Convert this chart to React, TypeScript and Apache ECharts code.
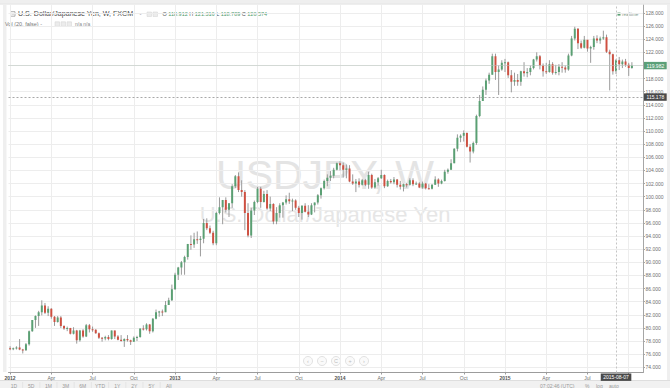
import React, { useEffect, useRef } from "react";
import * as echarts from "echarts";

// Weekly candles [open, high, low, close]
const ohlc2012: number[][] = [
  [76.9, 77.2, 76.6, 76.8], [76.8, 77.0, 76.6, 76.9], [76.9, 77.2, 76.7, 77.0], [77.0, 78.3, 76.6, 76.7],
  [76.7, 76.8, 76.1, 76.6], [76.6, 77.7, 76.5, 77.5], [77.5, 79.6, 77.3, 79.5], [79.5, 81.2, 79.4, 81.2],
  [81.2, 81.9, 80.0, 81.8], [81.8, 82.6, 80.3, 82.4], [82.4, 84.2, 81.9, 83.4], [83.4, 83.8, 82.1, 82.3],
  [82.3, 83.3, 81.8, 82.9], [82.9, 83.0, 81.4, 81.7], [81.7, 81.8, 80.3, 80.9], [80.9, 81.8, 80.8, 81.6],
  [81.6, 81.8, 80.0, 80.3], [80.3, 80.4, 79.7, 79.9], [79.9, 80.2, 79.5, 80.0], [80.0, 80.0, 79.0, 79.1],
  [79.1, 80.1, 79.0, 79.6], [79.6, 79.7, 77.6, 78.1], [78.1, 79.7, 77.9, 79.6], [79.6, 79.8, 78.5, 78.7],
  [78.7, 80.6, 78.6, 80.4], [80.4, 80.6, 79.3, 79.8], [79.8, 80.2, 79.4, 79.7], [79.7, 79.8, 79.1, 79.2],
  [79.2, 79.3, 78.3, 78.5], [78.5, 78.6, 77.9, 78.4], [78.4, 78.8, 78.1, 78.6], [78.6, 78.9, 78.1, 78.3],
  [78.3, 79.6, 78.2, 79.6], [79.6, 79.6, 78.3, 78.7], [78.7, 78.9, 78.1, 78.2], [78.2, 78.9, 77.9, 78.0],
  [78.0, 78.4, 77.1, 78.3], [78.3, 78.9, 77.9, 78.1], [78.1, 78.2, 77.4, 77.9], [77.9, 78.7, 77.9, 78.5],
  [78.5, 78.8, 78.0, 78.6], [78.6, 79.9, 78.5, 79.9], [79.9, 80.4, 79.6, 79.8], [79.8, 80.7, 79.6, 80.5],
  [80.5, 80.6, 79.1, 79.5], [79.5, 81.5, 79.3, 81.4], [81.4, 82.8, 81.3, 82.4], [82.4, 82.6, 81.7, 82.5],
  [82.5, 82.8, 81.8, 82.4], [82.4, 84.1, 82.4, 83.5], [83.5, 84.6, 83.5, 84.2], [84.2, 86.6, 84.1, 85.9],
  [85.9, 88.4, 85.8, 88.1],
];
const ohlc2013: number[][] = [
  [88.1, 89.3, 87.3, 89.2], [89.2, 90.2, 88.1, 90.0], [90.0, 91.0, 88.1, 90.8], [90.8, 92.8, 90.4, 92.8],
  [92.8, 94.1, 91.9, 92.7], [92.7, 94.5, 92.2, 93.5], [93.5, 94.7, 92.8, 93.4], [93.4, 94.0, 90.9, 93.6],
  [93.6, 96.6, 92.9, 96.0], [96.0, 96.7, 94.9, 95.2], [95.2, 95.6, 94.3, 94.5], [94.5, 94.8, 92.6, 92.9],
  [92.9, 97.7, 92.6, 97.5], [97.5, 99.9, 97.3, 98.4], [98.4, 99.5, 95.8, 99.5], [99.5, 99.9, 97.6, 98.0],
  [98.0, 99.0, 96.9, 99.0], [99.0, 101.9, 98.3, 101.6], [101.6, 103.3, 101.3, 103.1], [103.1, 103.7, 100.7, 101.0],
  [101.0, 102.5, 100.0, 100.7], [100.7, 101.0, 94.9, 97.5], [97.5, 99.0, 93.8, 94.1], [94.1, 98.3, 93.7, 97.9],
  [97.9, 99.4, 97.2, 99.2], [99.2, 101.5, 99.0, 101.2], [101.2, 101.5, 98.3, 99.2], [99.2, 100.9, 99.1, 100.4],
  [100.4, 101.0, 98.0, 98.2], [98.2, 100.0, 97.8, 98.9], [98.9, 99.0, 95.8, 96.2], [96.2, 98.4, 95.8, 97.5],
  [97.5, 99.0, 96.8, 98.7], [98.7, 99.2, 96.8, 99.1], [99.1, 100.2, 98.8, 99.6], [99.6, 100.6, 98.9, 99.3],
  [99.3, 99.7, 97.8, 99.4], [99.4, 99.6, 98.0, 98.3], [98.3, 98.6, 96.9, 97.5], [97.5, 98.7, 96.5, 98.6],
  [98.6, 99.0, 97.6, 97.7], [97.7, 98.7, 96.9, 97.3], [97.3, 99.0, 97.2, 98.7], [98.7, 99.1, 97.6, 99.1],
  [99.1, 100.4, 98.8, 100.2], [100.2, 101.4, 99.7, 101.3], [101.3, 102.6, 101.1, 102.4], [102.4, 103.4, 101.6, 102.9],
  [102.9, 103.9, 102.4, 103.2], [103.2, 104.4, 102.8, 104.1], [104.1, 105.2, 104.0, 105.1], [105.1, 105.4, 104.0, 104.8],
];
const ohlc2014: number[][] = [
  [104.8, 105.2, 102.9, 104.1], [104.1, 104.9, 102.8, 104.3], [104.3, 104.8, 102.2, 102.3], [102.3, 103.4, 101.8, 102.0],
  [102.0, 102.7, 100.7, 102.3], [102.3, 102.8, 101.4, 101.8], [101.8, 102.7, 101.7, 102.5], [102.5, 102.7, 101.6, 101.8],
  [101.8, 103.8, 101.2, 103.3], [103.3, 103.5, 101.2, 101.4], [101.4, 102.7, 101.2, 102.2], [102.2, 103.0, 101.7, 102.8],
  [102.8, 104.1, 102.7, 103.3], [103.3, 103.4, 101.3, 101.6], [101.6, 102.6, 101.5, 102.4], [102.4, 102.7, 102.0, 102.2],
  [102.2, 103.0, 101.9, 102.6], [102.6, 102.7, 101.4, 101.8], [101.8, 102.4, 101.1, 101.5], [101.5, 102.0, 100.8, 101.9],
  [101.9, 102.1, 101.4, 101.8], [101.8, 102.8, 101.7, 102.5], [102.5, 102.8, 101.6, 101.9], [101.9, 102.3, 101.8, 102.0],
  [102.0, 102.2, 101.3, 101.4], [101.4, 102.3, 101.2, 102.0], [102.0, 102.1, 101.1, 101.3], [101.3, 101.9, 101.1, 101.2],
  [101.2, 101.9, 101.1, 101.8], [101.8, 103.1, 101.8, 102.6], [102.6, 102.8, 101.5, 102.0], [102.0, 102.6, 101.9, 102.4],
  [102.4, 104.1, 102.3, 103.8], [103.8, 104.3, 103.5, 104.1], [104.1, 105.7, 104.1, 105.1], [105.1, 107.4, 105.1, 107.3],
  [107.3, 109.5, 106.9, 109.0], [109.0, 109.5, 108.3, 109.3], [109.3, 110.1, 108.4, 109.7], [109.7, 109.8, 107.5, 107.6],
  [107.6, 108.0, 105.2, 106.9], [106.9, 108.4, 106.6, 108.2], [108.2, 112.5, 107.9, 112.3], [112.3, 115.5, 112.1, 114.6],
  [114.6, 116.8, 114.6, 116.3], [116.3, 118.0, 115.5, 117.7], [117.7, 118.9, 117.2, 118.6], [118.6, 121.8, 118.6, 121.4],
  [121.4, 121.8, 117.8, 119.0], [119.0, 120.0, 115.5, 119.4], [119.4, 120.8, 119.2, 120.4], [120.4, 121.0, 119.0, 120.5],
];
const ohlc2015: number[][] = [
  [120.5, 120.6, 118.1, 118.5], [118.5, 119.3, 115.9, 117.5], [117.5, 118.9, 116.9, 117.8], [117.8, 118.7, 116.9, 117.5],
  [117.5, 119.2, 116.9, 119.1], [119.1, 120.5, 118.3, 118.8], [118.8, 119.6, 118.2, 119.0], [119.0, 120.0, 118.5, 119.6],
  [119.6, 121.0, 119.4, 120.9], [120.9, 122.0, 120.6, 121.4], [121.4, 121.6, 119.4, 120.0], [120.0, 120.3, 118.3, 119.1],
  [119.1, 120.4, 118.7, 119.0], [119.0, 120.8, 118.9, 120.2], [120.2, 120.5, 118.6, 118.9], [118.9, 120.1, 118.6, 119.0],
  [119.0, 120.2, 118.5, 119.8], [119.8, 120.5, 118.9, 119.7], [119.7, 120.0, 118.9, 119.4], [119.4, 121.8, 119.2, 121.5],
  [121.5, 124.5, 121.4, 124.1], [124.1, 125.9, 123.8, 125.6], [125.6, 125.7, 122.5, 123.4], [123.4, 123.8, 122.5, 122.7],
  [122.7, 124.5, 122.6, 123.9], [123.9, 123.9, 122.1, 122.6], [122.6, 123.0, 120.4, 122.8], [122.8, 124.5, 122.4, 124.1],
  [124.1, 124.6, 123.4, 123.8], [123.8, 124.4, 123.3, 124.1], [124.1, 125.3, 123.9, 124.3], [124.3, 124.7, 121.9, 122.1],
  [122.1, 122.4, 116.2, 121.7], [121.7, 121.8, 118.6, 119.1], [119.1, 121.0, 118.7, 120.8], [120.8, 121.3, 119.3, 120.2],
  [120.2, 120.9, 119.6, 120.6], [120.6, 121.0, 119.8, 120.1], [120.1, 120.4, 118.4, 119.6], [119.6, 120.5, 119.5, 119.98],
];

const firstWeek = "2012-01-02";
const blankWeeksAfter = 3;
const priceTicks = [74, 76, 78, 80, 82, 84, 86, 88, 90, 92, 94, 96, 98, 100, 102, 104, 106, 108, 110, 112, 114, 116, 118, 120, 122, 124, 126, 128];
const monthNames = ["Jan", "Feb", "Mar", "Apr", "May", "Jun", "Jul", "Aug", "Sep", "Oct", "Nov", "Dec"];
const labelMonths = [0, 3, 6, 9];
const lastPrice = 119.982;
const cursorPrice = 115.178;
const cursorWeek = 191;
const cursorDateText = "2015-08-07";
const legendKeys = ["O", "H", "L", "C"];
const legendValues = ["118.912", "121.316", "118.789", "120.574"];
const titleText = "U.S. Dollar/Japanese Yen, W, FXCM";
const volText = "Vol (20, false)";
const watermarkSymbol = "USDJPY, W";
const watermarkName = "U.S. Dollar/Japanese Yen";
const navIcons = ["‹", "−", "C", "+", "›"];
const rangeButtons = ["1D", "5D", "1M", "3M", "6M", "YTD", "1Y", "2Y", "5Y", "All"];

const DAY = 86400000;
const FONT = "'Liberation Sans', Arial, sans-serif";
const UP = "#5aa073";
const DOWN = "#cf5041";
const WICK = "#9a9a9a";

const bars = [...ohlc2012, ...ohlc2013, ...ohlc2014, ...ohlc2015];
const t0 = Date.parse(firstWeek + "T00:00:00Z");
const categories = Array.from({ length: bars.length + blankWeeksAfter }, (_, i) =>
  new Date(t0 + i * 7 * DAY).toISOString().slice(0, 10)
);

function quarterLabel(cat: string): string | null {
  const end = new Date(Date.parse(cat + "T00:00:00Z") + 5 * DAY);
  const m = end.getUTCMonth();
  if (end.getUTCDate() <= 7 && labelMonths.includes(m)) {
    return m === 0 ? "{y|" + end.getUTCFullYear() + "}" : monthNames[m];
  }
  return null;
}
const showAt = (i: number) => quarterLabel(categories[i]) !== null;
// the crosshair date box covers the axis label beneath it
const showLabelAt = (i: number) => showAt(i) && Math.abs(i - cursorWeek) > 5;

const renderCandle = (_params: any, api: any) => {
  const i = api.value(0);
  const o = api.value(1);
  const h = api.value(2);
  const l = api.value(3);
  const c = api.value(4);
  const pH = api.coord([i, h]);
  const pL = api.coord([i, l]);
  const pO = api.coord([i, o]);
  const pC = api.coord([i, c]);
  const w = api.size([1, 0])[0] * 0.62;
  const top = Math.min(pO[1], pC[1]);
  const hgt = Math.max(Math.abs(pO[1] - pC[1]), 1);
  return {
    type: "group",
    children: [
      { type: "line", shape: { x1: pH[0], y1: pH[1], x2: pL[0], y2: pL[1] }, style: { stroke: WICK, lineWidth: 1 } },
      { type: "rect", shape: { x: pH[0] - w / 2, y: top, width: w, height: hgt }, style: { fill: c >= o ? UP : DOWN } },
    ],
  };
};

function buildGraphics() {
  const g: any[] = [];
  // top toolbar edge
  g.push({ type: "rect", shape: { x: 0, y: 0, width: 670, height: 3.5 }, style: { fill: "#efefef" } });
  g.push({ type: "line", shape: { x1: 0, y1: 4, x2: 670, y2: 4 }, style: { stroke: "#dddddd", lineWidth: 1 } });
  // side strips
  g.push({ type: "rect", shape: { x: 3, y: 5, width: 3.5, height: 367 }, style: { fill: "#efefef" } });
  g.push({ type: "rect", shape: { x: 667, y: 5, width: 3, height: 376 }, style: { fill: "#efefef" } });
  // watermark
  g.push({ type: "text", z: -1, x: 325, y: 175.4, style: { text: watermarkSymbol, fontSize: 41, fontFamily: FONT, fill: "#e4e4e4", align: "center", verticalAlign: "middle" } });
  g.push({ type: "text", z: -1, x: 325, y: 214.2, style: { text: watermarkName, fontSize: 22, fontFamily: FONT, fill: "#e6e6e6", align: "center", verticalAlign: "middle" } });
  // title icon
  g.push({ type: "rect", shape: { x: 10.5, y: 11.7, width: 4.5, height: 4.5 }, style: { fill: "none", stroke: "#9a9a9a", lineWidth: 0.8 } });
  g.push({ type: "line", shape: { x1: 11.5, y1: 13.95, x2: 14, y2: 13.95 }, style: { stroke: "#9a9a9a", lineWidth: 0.8 } });
  g.push({ type: "text", x: 18, y: 14.2, style: { text: titleText, fontSize: 7.1, fontFamily: FONT, fill: "#4a4a4a", verticalAlign: "middle" } });
  g.push({ type: "text", x: 139.5, y: 14.2, style: { text: "-", fontSize: 6, fontFamily: FONT, fill: "#888", verticalAlign: "middle" } });
  [147, 153].forEach((x) =>
    g.push({ type: "rect", shape: { x, y: 12, width: 4.5, height: 4.5 }, style: { fill: "#ececec", stroke: "#d2d2d2", lineWidth: 0.5 } })
  );
  const ohlcText = legendKeys.map((k, i) => "{k|" + k + "} {v|" + legendValues[i] + "}").join(" ");
  g.push({
    type: "text", x: 162.5, y: 14.4,
    style: {
      text: ohlcText, fontSize: 5.5, fontFamily: FONT, verticalAlign: "middle",
      rich: { k: { fill: "#555", fontSize: 5.5, fontFamily: FONT }, v: { fill: "#4f9a6c", fontSize: 5.5, fontFamily: FONT } },
    },
  });
  // volume line
  g.push({ type: "text", x: 5, y: 24, style: { text: volText + " -", fontSize: 5.5, fontFamily: FONT, fill: "#777", verticalAlign: "middle" } });
  [55, 61, 67].forEach((x) =>
    g.push({ type: "rect", shape: { x, y: 21.8, width: 4.5, height: 4.5 }, style: { fill: "#ececec", stroke: "#d2d2d2", lineWidth: 0.5 } })
  );
  g.push({ type: "text", x: 75, y: 24, style: { text: "n/a n/a", fontSize: 5, fontFamily: FONT, fill: "#8a8a8a", verticalAlign: "middle" } });
  // realtime tag
  g.push({ type: "rect", shape: { x: 617.5, y: 12.6, width: 3, height: 3 }, style: { fill: UP } });
  g.push({ type: "text", x: 622, y: 14.2, style: { text: "realtime", fontSize: 4.6, fontFamily: FONT, fill: "#7f9a8a", verticalAlign: "middle" } });
  // navigation buttons
  [308, 322, 336, 350, 364].forEach((cx, i) => {
    g.push({ type: "circle", shape: { cx, cy: 361, r: 4.5 }, style: { fill: "#fafafa", stroke: "#dadada", lineWidth: 0.8 } });
    g.push({ type: "text", x: cx, y: 361, style: { text: navIcons[i], fontSize: 5.5, fontFamily: FONT, fill: "#bdbdbd", align: "center", verticalAlign: "middle" } });
  });
  // bottom toolbar
  g.push({ type: "rect", shape: { x: 0, y: 380.5, width: 670, height: 8 }, style: { fill: "#f1f1f1" } });
  g.push({ type: "line", shape: { x1: 0, y1: 380.5, x2: 670, y2: 380.5 }, style: { stroke: "#dedede", lineWidth: 1 } });
  rangeButtons.forEach((t, i) => {
    const x = 14 + i * 17.2;
    g.push({ type: "text", x, y: 383, style: { text: t, fontSize: 5, fontFamily: FONT, fill: "#9a9a9a", align: "center", verticalAlign: "top" } });
    if (i > 0) g.push({ type: "line", shape: { x1: x - 8.6, y1: 382, x2: x - 8.6, y2: 388 }, style: { stroke: "#dcdcdc", lineWidth: 0.6 } });
  });
  g.push({ type: "text", x: 540, y: 383, style: { text: "07:02:46 (UTC)", fontSize: 5, fontFamily: FONT, fill: "#9a9a9a", verticalAlign: "top" } });
  g.push({ type: "text", x: 585, y: 383, style: { text: "%", fontSize: 5, fontFamily: FONT, fill: "#9a9a9a", verticalAlign: "top" } });
  g.push({ type: "text", x: 596, y: 383, style: { text: "log", fontSize: 5, fontFamily: FONT, fill: "#9a9a9a", verticalAlign: "top" } });
  g.push({ type: "text", x: 609, y: 383, style: { text: "auto", fontSize: 5, fontFamily: FONT, fill: "#9a9a9a", verticalAlign: "top" } });
  return g;
}

export default function App() {
  const ref = useRef<HTMLDivElement>(null);
  useEffect(() => {
    if (!ref.current) return;
    const chart = echarts.init(ref.current, null, { renderer: "svg" });
    const option: any = {
      animation: false,
      backgroundColor: "#ffffff",
      textStyle: { fontFamily: FONT },
      grid: { left: 8.5, right: 27, top: 5.1, height: 367.4, containLabel: false },
      xAxis: {
        type: "category",
        data: categories,
        boundaryGap: true,
        axisLine: { show: true, lineStyle: { color: "#9c9c9c", width: 1 } },
        axisTick: { show: true, alignWithLabel: true, interval: showAt, length: 2, lineStyle: { color: "#9c9c9c" } },
        axisLabel: {
          interval: showLabelAt,
          formatter: (v: string) => quarterLabel(v) || "",
          fontSize: 5,
          color: "#707070",
          margin: 2.5,
          fontFamily: FONT,
          rich: { y: { fontWeight: "bold", fontSize: 5, color: "#555", fontFamily: FONT } },
        },
        splitLine: { show: true, interval: showAt, alignWithLabel: true, lineStyle: { color: "#ededed", width: 1 } },
      },
      yAxis: {
        type: "value",
        position: "right",
        min: 73.2,
        max: 129.2,
        axisLine: { show: true, lineStyle: { color: "#a6a6a6", width: 1 } },
        axisTick: { show: true, length: 2, customValues: priceTicks, lineStyle: { color: "#a6a6a6" } },
        axisLabel: {
          customValues: priceTicks,
          formatter: (v: number) => v.toFixed(3),
          fontSize: 5,
          color: "#707070",
          margin: 2.5,
          fontFamily: FONT,
        },
        splitLine: { show: true, lineStyle: { color: "#ededed", width: 1 } },
      },
      series: [
        {
          type: "custom",
          name: "USDJPY",
          renderItem: renderCandle,
          encode: { x: 0, y: [1, 2, 3, 4] },
          data: bars.map((b, i) => [i, b[0], b[1], b[2], b[3]]),
          markLine: {
            silent: true,
            symbol: ["none", "none"],
            animation: false,
            data: [
              {
                yAxis: lastPrice,
                lineStyle: { color: "#b9c4bd", type: "dotted", width: 1 },
                label: {
                  show: true, position: "end", distance: 1, formatter: lastPrice.toFixed(3),
                  backgroundColor: "#5b9f78", color: "#ffffff", fontSize: 5, fontFamily: FONT, padding: [1.2, 2.5, 1.2, 2.5],
                },
              },
              {
                yAxis: cursorPrice,
                lineStyle: { color: "#a8a8a8", type: [2, 2], width: 1 },
                label: {
                  show: true, position: "end", distance: 1, formatter: cursorPrice.toFixed(3),
                  backgroundColor: "#4a4a4a", color: "#ffffff", fontSize: 5, fontFamily: FONT, padding: [1.2, 2.5, 1.2, 2.5],
                },
              },
              {
                xAxis: categories[cursorWeek],
                lineStyle: { color: "#c4c4c4", type: [2, 2], width: 1 },
                label: {
                  show: true, position: "start", distance: 1, formatter: cursorDateText,
                  backgroundColor: "#4a4a4a", color: "#ffffff", fontSize: 5, fontFamily: FONT, padding: [1.2, 2.5, 1.2, 2.5],
                },
              },
            ],
          },
        },
      ],
      graphic: { elements: buildGraphics() },
    };
    chart.setOption(option);
    return () => chart.dispose();
  }, []);
  return (
    <div
      ref={ref}
      style={{ position: "fixed", left: 0, top: 0, width: 670, height: 388, background: "#fff" }}
    />
  );
}
